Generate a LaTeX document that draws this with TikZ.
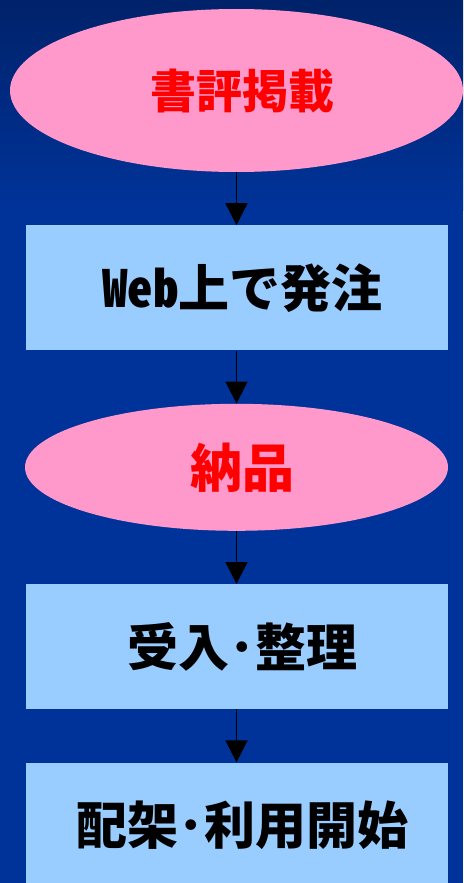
\documentclass[tikz,border=0pt]{standalone}
\usepackage{fontspec}
\newfontfamily\jpfont{Noto Sans CJK JP}
\newfontfamily\jphalf{Noto Sans CJK JP}[RawFeature=+hwid]
\usetikzlibrary{positioning}
\usetikzlibrary{shapes.geometric}
\usetikzlibrary{arrows.meta}
\definecolor{slideblue}{HTML}{003399}
\definecolor{slidenavy}{HTML}{00226A}
\definecolor{boxblue}{HTML}{99CCFF}
\definecolor{eventpink}{HTML}{FF99CC}

\begin{document}
\begin{tikzpicture}[x=1pt, y=1pt,
			node distance=53pt,
			every node/.style={execute at begin node=\hspace*{12pt}},
			event/.style={ellipse, fill=eventpink, inner sep=0pt, text=red,
				font=\jpfont\bfseries\fontsize{46}{46}\selectfont},
			task/.style={rectangle, fill=boxblue, inner sep=0pt, text=black,
				minimum width=422pt, minimum height=125pt,
				font=\jphalf\bfseries\fontsize{51}{51}\selectfont},
			flow/.style={draw=black, line width=1.5pt, -{Triangle[width=22pt, length=22pt]}}]
			\useasboundingbox (0,0) rectangle (463,-883);
			\fill[slideblue] (0,0) rectangle (463,-883);
			\shade[top color=slidenavy, bottom color=slideblue] (0,0) rectangle (463,-210);
			\node[event, minimum width=453pt, minimum height=163pt](review) at (236.5,-90.5){書評掲載};
			\node[task, below=of review](order){Web上で発注};
			\node[event, minimum width=423pt, minimum height=127pt, below=of order,
				font=\jpfont\bfseries\fontsize{52}{52}\selectfont](delivery){納品};
			\node[task, below=of delivery](process){受入･整理};
			\node[task, below=of process](shelve){配架･利用開始};
			\path[flow] (review) -- (order);
			\path[flow] (order) -- (delivery);
			\path[flow] (delivery) -- (process);
			\path[flow] (process) -- (shelve);
	\end{tikzpicture}
\end{document}
